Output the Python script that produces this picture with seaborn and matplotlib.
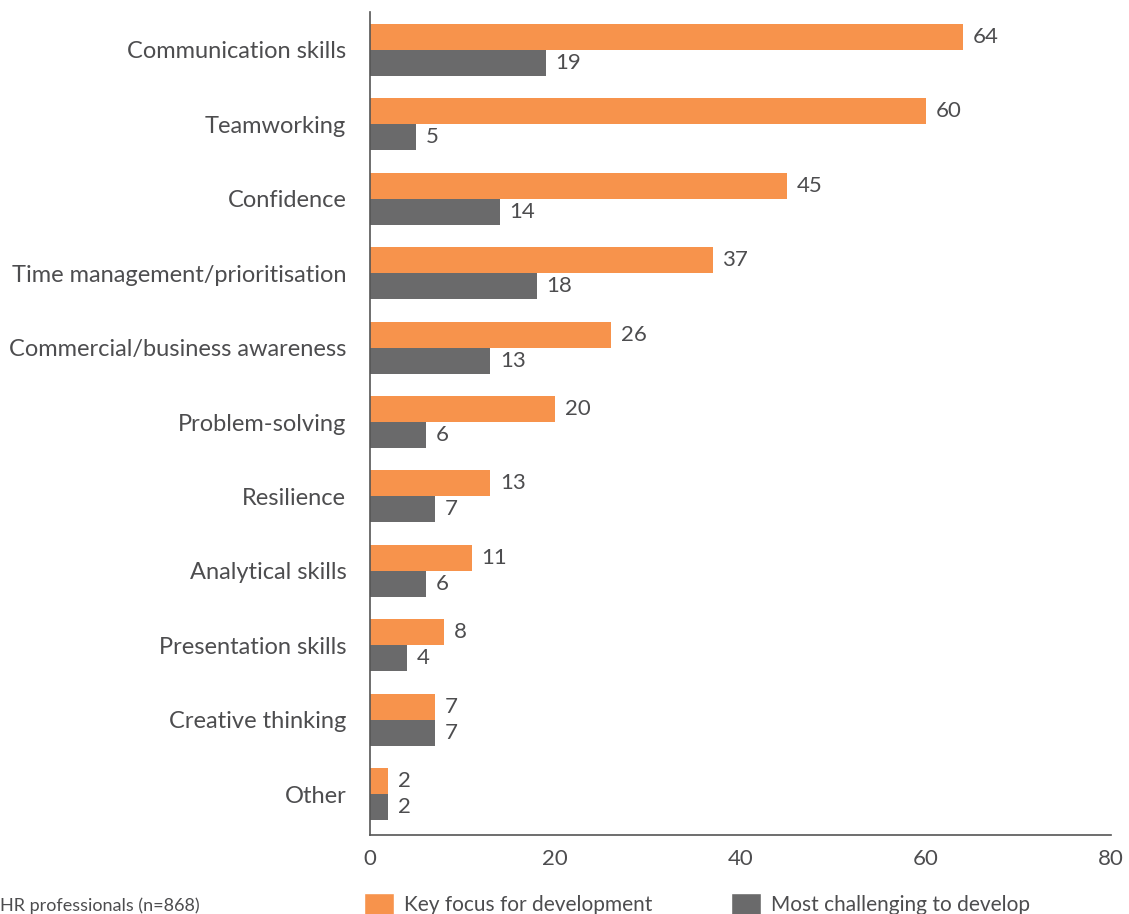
import seaborn as sns
import matplotlib.pyplot as plt
import pandas as pd
from matplotlib.patches import Patch

skills = [
    "Communication skills", "Teamworking", "Confidence",
    "Time management/prioritisation", "Commercial/business awareness",
    "Problem-solving", "Resilience", "Analytical skills",
    "Presentation skills", "Creative thinking", "Other",
]
key_focus = [64, 60, 45, 37, 26, 20, 13, 11, 8, 7, 2]
most_challenging = [19, 5, 14, 18, 13, 6, 7, 6, 4, 7, 2]
series_names = ["Key focus for development", "Most challenging to develop"]
x_ticks = [0, 20, 40, 60, 80]

ORANGE = "#F7934C"
GREY = "#6A6A6B"
TEXT = "#4D4D4F"

df = pd.DataFrame({
    "skill": skills * 2,
    "value": key_focus + most_challenging,
    "series": [series_names[0]] * len(skills) + [series_names[1]] * len(skills),
})

sns.set_style("white")
plt.rcParams["font.family"] = ["Lato", "DejaVu Sans"]

fig = plt.figure(figsize=(11.29, 9.14), dpi=100)
ax = fig.add_axes([0.3277, 0.0864, 0.984 - 0.3277, 0.9869 - 0.0864])

sns.barplot(data=df, y="skill", x="value", hue="series", order=skills,
            hue_order=series_names, palette=[ORANGE, GREY], width=0.7,
            orient="h", ax=ax, legend=False, saturation=1, linewidth=0)

for container in ax.containers:
    ax.bar_label(container, padding=7, fontsize=16, color=TEXT)

ax.set_xlim(0, 80)
ax.set_ylim(10.55, -0.51)
ax.set_xticks(x_ticks)
ax.set_xlabel("")
ax.set_ylabel("")
ax.tick_params(axis="both", length=0, labelsize=16, colors=TEXT)
ax.tick_params(axis="y", labelsize=17, pad=17)
ax.tick_params(axis="x", pad=10)
for side in ["top", "right"]:
    ax.spines[side].set_visible(False)
for side in ["left", "bottom"]:
    ax.spines[side].set_color("#555555")
    ax.spines[side].set_linewidth(1.2)

handles = [Patch(facecolor=ORANGE), Patch(facecolor=GREY)]
fig.legend(handles, series_names, loc="lower left",
           bbox_to_anchor=(0.3056, -0.022), ncol=2, frameon=False,
           fontsize=15, labelcolor=TEXT, handlelength=1.44, handleheight=1.3,
           columnspacing=3.8, handletextpad=0.48)

fig.text(0.0, 0.0, "HR professionals (n=868)", fontsize=13, color=TEXT,
         ha="left", va="bottom")

fig.savefig("out.png", dpi=100)
